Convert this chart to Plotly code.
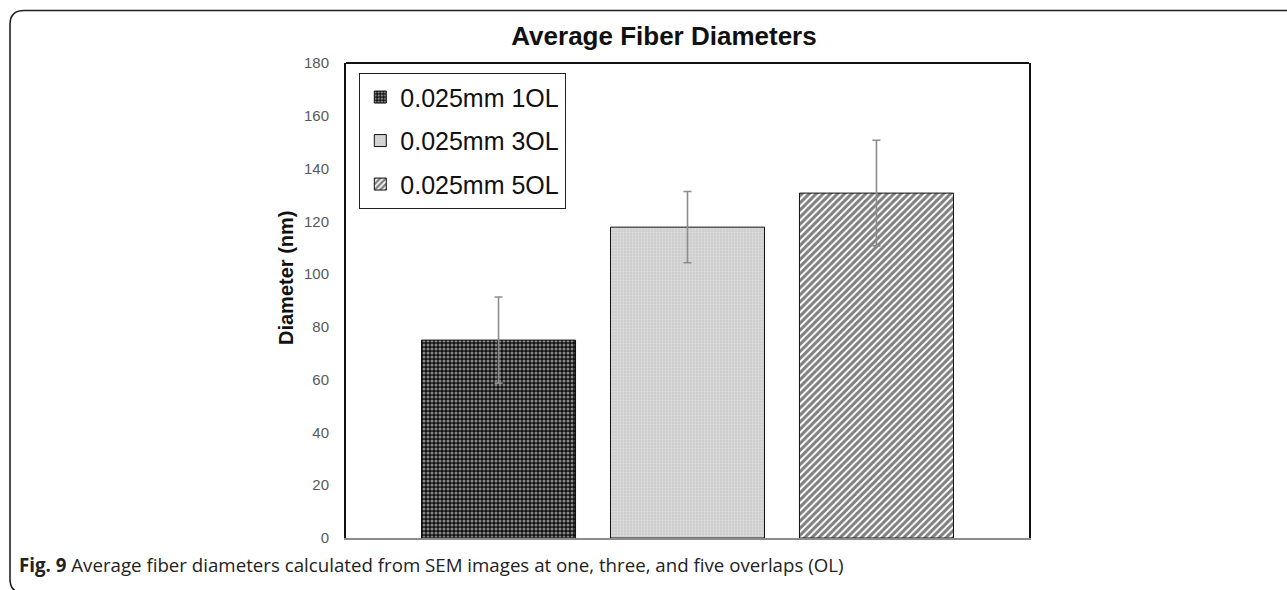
import plotly.graph_objects as go

# ---- data ----
category = ["0.025mm"]
series_names = ["0.025mm 1OL", "0.025mm 3OL", "0.025mm 5OL"]
mean_diam = [75.0, 117.8, 130.7]
err_diam = [16.3, 13.5, 20.0]
y_ticks = [0, 20, 40, 60, 80, 100, 120, 140, 160, 180]

title_text = "Average Fiber Diameters"
ytitle_text = "Diameter (nm)"
caption_bold = "Fig. 9"
caption_text = "Average fiber diameters calculated from SEM images at one, three, and five overlaps (OL)"

# ---- styles ----
patterns = [
    dict(shape=".", bgcolor="#111111", fgcolor="#ffffff", size=4, solidity=0.45),
    dict(shape=".", bgcolor="#cdcdcd", fgcolor="#efefef", size=3, solidity=0.35),
    dict(shape="/", bgcolor="#ffffff", fgcolor="#000000", size=5, solidity=0.6),
]

W, H = 1287, 590
L, R, T, B = 346, 1029, 63, 538  # plot area pixels


def px(x):
    return (x - L) / (R - L)


def py(y):
    return (B - y) / (B - T)


fig = go.Figure()
for name, m, e, pat in zip(series_names, mean_diam, err_diam, patterns):
    fig.add_trace(go.Bar(
        x=category, y=[m], name=name, legendgroup=name,
        marker=dict(color=pat["bgcolor"], pattern=pat,
                    line=dict(color="#111111", width=1)),
        error_y=dict(type="data", array=[e], visible=True,
                     color="#8c8c8c", thickness=1.6, width=4),
    ))

fig.update_layout(
    width=W, height=H,
    margin=dict(l=L, r=W - R, t=T, b=H - B, pad=0),
    paper_bgcolor="white", plot_bgcolor="white",
    barmode="group", bargap=0.17, bargroupgap=0.185,
    showlegend=True,
    legend=dict(
        x=px(359), y=py(73), xanchor="left", yanchor="top",
        bordercolor="#222222", borderwidth=1.3, bgcolor="white",
        font=dict(family="Liberation Sans, Arial", size=25, color="#111111"),
        traceorder="grouped", tracegroupgap=8,
    ),
    title=dict(text="<b>" + title_text + "</b>", xref="container", yref="container",
               x=664 / W, y=1 - 36 / H, xanchor="center", yanchor="middle",
               font=dict(family="Liberation Sans, Arial", size=26, color="#111111")),
    xaxis=dict(showticklabels=False, ticks="", showgrid=False, zeroline=False,
               showline=True, linecolor="#8c8c8c", linewidth=1.5, mirror=False),
    yaxis=dict(range=[0, 180], tickvals=y_ticks, showgrid=False, zeroline=False,
               showline=True, linecolor="#111111", linewidth=2, mirror=True,
               ticks="", ticklabelstandoff=12,
               tickfont=dict(family="Liberation Sans, Arial", size=15, color="#595959")),
)

# top border of plot area
fig.add_shape(type="line", xref="paper", yref="paper", x0=0, x1=1, y0=1, y1=1,
              line=dict(color="#111111", width=2))

# outer figure frame with rounded corners
r = 14
x0, y0, y1 = 10, 10.5, 593
path = (f"M {px(W + 20)},{py(y0)} L {px(x0 + r)},{py(y0)} "
        f"Q {px(x0)},{py(y0)} {px(x0)},{py(y0 + r)} "
        f"L {px(x0)},{py(y1 - r)} Q {px(x0)},{py(y1)} {px(x0 + r)},{py(y1)} "
        f"L {px(W + 20)},{py(y1)}")
fig.add_shape(type="path", xref="paper", yref="paper", path=path,
              line=dict(color="#222222", width=1.6))

# y-axis title
fig.add_annotation(text="<b>" + ytitle_text + "</b>", xref="paper", yref="paper",
                   x=px(286), y=py(278), textangle=-90, showarrow=False,
                   xanchor="center", yanchor="middle",
                   font=dict(family="Liberation Sans, Arial", size=20, color="#111111"))

# caption
fig.add_annotation(text="<b>" + caption_bold + "</b> " + caption_text,
                   xref="paper", yref="paper", x=px(17), y=py(564),
                   xanchor="left", yanchor="middle", showarrow=False,
                   font=dict(family="Open Sans, Noto Sans", size=18.7, color="#222222"))

fig.write_html("out.html")
